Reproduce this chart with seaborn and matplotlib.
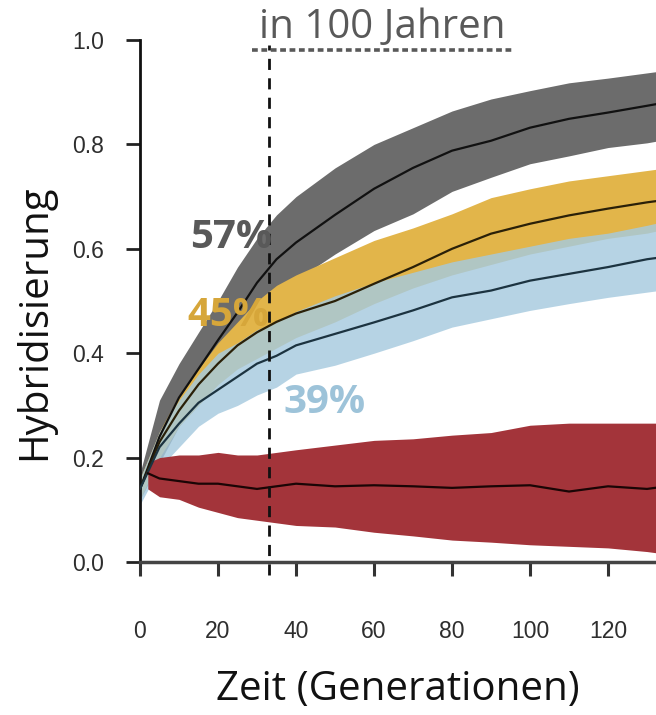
"""Hybridisierung über die Zeit (Generationen) für vier Szenarien."""

import matplotlib

matplotlib.use("Agg")
import matplotlib.pyplot as plt
import pandas as pd
import seaborn as sns
from matplotlib.lines import Line2D

GENERATIONS = [0, 5, 10, 15, 20, 25, 30, 35, 40, 50, 60, 70, 80, 90, 100, 110, 120, 130, 133]

GRAY_MEAN = [0.14, 0.24, 0.315, 0.37, 0.425, 0.478, 0.535, 0.58, 0.612, 0.665, 0.715, 0.755,
             0.788, 0.807, 0.832, 0.849, 0.861, 0.874, 0.878]
GRAY_UPPER = [0.17, 0.31, 0.38, 0.44, 0.50, 0.565, 0.62, 0.665, 0.70, 0.755, 0.80, 0.832,
              0.864, 0.887, 0.903, 0.918, 0.927, 0.937, 0.94]
GRAY_LOWER = [0.12, 0.19, 0.26, 0.31, 0.36, 0.40, 0.445, 0.50, 0.54, 0.59, 0.635, 0.667,
              0.71, 0.737, 0.763, 0.778, 0.794, 0.803, 0.807]

GOLD_MEAN = [0.14, 0.23, 0.29, 0.34, 0.38, 0.415, 0.44, 0.46, 0.476, 0.50, 0.533, 0.565,
             0.60, 0.629, 0.648, 0.664, 0.677, 0.689, 0.692]
GOLD_UPPER = [0.16, 0.25, 0.32, 0.37, 0.42, 0.46, 0.50, 0.53, 0.55, 0.583, 0.616, 0.64,
              0.667, 0.698, 0.715, 0.73, 0.74, 0.75, 0.753]
GOLD_LOWER = [0.12, 0.20, 0.26, 0.30, 0.34, 0.37, 0.39, 0.41, 0.43, 0.46, 0.495, 0.525,
              0.55, 0.57, 0.59, 0.605, 0.62, 0.63, 0.635]

BLUE_MEAN = [0.14, 0.22, 0.265, 0.305, 0.33, 0.355, 0.38, 0.395, 0.415, 0.437, 0.459, 0.482,
             0.507, 0.52, 0.539, 0.552, 0.565, 0.58, 0.583]
BLUE_UPPER = [0.16, 0.25, 0.31, 0.36, 0.40, 0.42, 0.445, 0.46, 0.48, 0.51, 0.535, 0.555,
              0.575, 0.59, 0.605, 0.62, 0.63, 0.645, 0.65]
BLUE_LOWER = [0.11, 0.18, 0.22, 0.26, 0.285, 0.30, 0.32, 0.335, 0.36, 0.377, 0.40, 0.424,
              0.45, 0.466, 0.482, 0.495, 0.507, 0.517, 0.52]

RED_GENERATIONS = [2, 5, 10, 15, 20, 25, 30, 35, 40, 50, 60, 70, 80, 90, 100, 110, 120, 130, 133]
RED_MEAN = [0.17, 0.16, 0.155, 0.15, 0.15, 0.145, 0.14, 0.145, 0.15, 0.145, 0.147, 0.145,
            0.142, 0.145, 0.147, 0.135, 0.145, 0.14, 0.143]
RED_UPPER = [0.19, 0.20, 0.205, 0.205, 0.21, 0.205, 0.205, 0.21, 0.215, 0.224, 0.233, 0.236,
             0.243, 0.248, 0.262, 0.266, 0.266, 0.266, 0.266]
RED_LOWER = [0.14, 0.125, 0.12, 0.105, 0.095, 0.085, 0.08, 0.075, 0.07, 0.067, 0.057, 0.05,
             0.042, 0.038, 0.033, 0.03, 0.027, 0.02, 0.017]

GEN_100_YEARS = 33
Y_TICKS = [0.0, 0.2, 0.4, 0.6, 0.8, 1.0]
X_TICKS = [0, 20, 40, 60, 80, 100, 120]

FONT = ["Open Sans", "DejaVu Sans"]

sns.set_style("white")
plt.rcParams["font.family"] = ["Liberation Sans", "DejaVu Sans"]

fig = plt.figure(figsize=(6.56, 7.15), dpi=100)
ax = fig.add_axes([140 / 656, 153 / 715, 516 / 656, 522 / 715])

series = [
    ("grau", GENERATIONS, GRAY_MEAN, GRAY_LOWER, GRAY_UPPER, "#6c6c6c", 1.0, "#111111"),
    ("gold", GENERATIONS, GOLD_MEAN, GOLD_LOWER, GOLD_UPPER, "#e2b54a", 1.0, "#2a2008"),
    ("blau", GENERATIONS, BLUE_MEAN, BLUE_LOWER, BLUE_UPPER, "#a6cadf", 0.82, "#1c3340"),
    ("rot", RED_GENERATIONS, RED_MEAN, RED_LOWER, RED_UPPER, "#a3343a", 1.0, "#1a0505"),
]

frames = []
for name, gens, mean, lower, upper, band_color, alpha, line_color in series:
    ax.fill_between(gens, lower, upper, color=band_color, alpha=alpha, linewidth=0, zorder=1)
    frames.append(pd.DataFrame({"gen": gens, "wert": mean, "szenario": name}))
df = pd.concat(frames, ignore_index=True)

line_palette = {s[0]: s[7] for s in series}
sns.lineplot(data=df, x="gen", y="wert", hue="szenario", palette=line_palette,
             linewidth=1.6, legend=False, ax=ax, zorder=3)

# Referenzlinie: 100 Jahre
ax.plot([GEN_100_YEARS, GEN_100_YEARS], [-0.025, 0.99], color="#111111", lw=2,
        linestyle=(0, (4, 3)), clip_on=False, zorder=4)

ax.set_xlim(0, 132.3)
ax.set_ylim(0, 1.0)
ax.set_xticks(X_TICKS)
ax.set_yticks(Y_TICKS)
ax.set_yticklabels([f"{v:.1f}" for v in Y_TICKS])
ax.set_xlabel("")
ax.set_ylabel("")
ax.tick_params(axis="x", bottom=True, direction="out", length=10, width=2.2,
               color="#333333", pad=32, labelsize=16.5, labelcolor="#2e2e2e")
ax.tick_params(axis="y", left=True, direction="out", length=10, width=2,
               color="#222222", pad=16, labelsize=16.5, labelcolor="#2e2e2e")
for side in ["top", "right"]:
    ax.spines[side].set_visible(False)
ax.spines["left"].set_linewidth(2)
ax.spines["left"].set_color("#111111")
ax.spines["left"].set_bounds(0, 1.0)
ax.spines["bottom"].set_linewidth(2.5)
ax.spines["bottom"].set_color("#444444")

# Prozentangaben
ax.text(23.3, 0.622, "57%", color="#595959", fontsize=29, fontweight="bold",
        family=FONT, ha="center", va="center", zorder=5)
ax.text(22.6, 0.473, "45%", color="#d6a63a", fontsize=29, fontweight="bold",
        family=FONT, ha="center", va="center", zorder=5)
ax.text(47.2, 0.306, "39%", color="#9dc3d9", fontsize=29, fontweight="bold",
        family=FONT, ha="center", va="center", zorder=5)

# Achsenbeschriftungen und Titel
fig.text(35 / 656, 1 - 322 / 715, "Hybridisierung", rotation=90, fontsize=29,
         family=FONT, ha="center", va="center", color="#111111")
fig.text(398 / 656, 1 - 690 / 715, "Zeit (Generationen)", fontsize=29,
         family=FONT, ha="center", va="center", color="#111111")
fig.text(382 / 656, 1 - 28 / 715, "in 100 Jahren", fontsize=29, family=FONT,
         ha="center", va="center", color="#595959")
fig.add_artist(Line2D([252 / 656, 512 / 656], [1 - 50 / 715, 1 - 50 / 715],
                      transform=fig.transFigure, color="#595959", lw=2.6,
                      linestyle=(0, (1.6, 1.0))))

fig.savefig("out.png", dpi=100)
plt.close(fig)
